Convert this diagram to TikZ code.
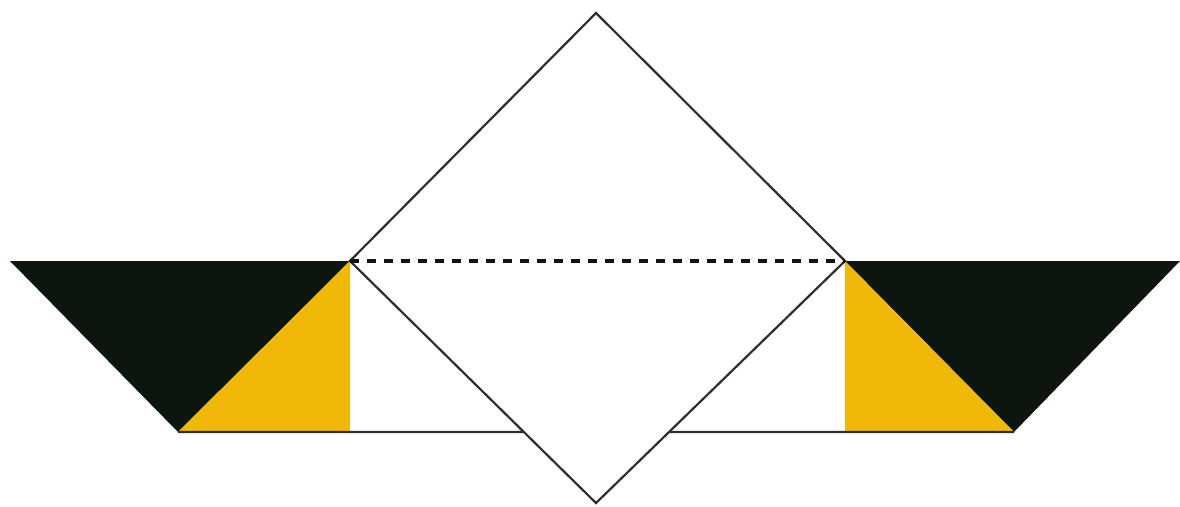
\documentclass[tikz,border=0pt]{standalone}
\usetikzlibrary{calc}
\definecolor{inkblack}{HTML}{0D150F}
\definecolor{goldfill}{HTML}{F0B808}
\definecolor{edgegray}{HTML}{2E2E2E}
\begin{document}
\begin{tikzpicture}[x=1pt,y=-1pt,
  edge/.style={draw=edgegray,line width=2.2pt,line join=miter},
  blackpart/.style={fill=inkblack},
  goldpart/.style={fill=goldfill},
  foldline/.style={draw=inkblack,line width=4pt,dash pattern=on 9pt off 8pt}]
\useasboundingbox (0,0) rectangle (1180,506);
% diamond corners
\coordinate (T) at (596,13);
\coordinate (L) at (350,261);
\coordinate (R) at (845,261);
\coordinate (B) at (596,503);
% left wing
\coordinate (LA) at (10,261);
\coordinate (LB) at (178,432);
\coordinate (LC) at (350,432);
\coordinate (LE) at ($(L)!0.7066!(B)$);
% right wing
\coordinate (RA) at (1180,261);
\coordinate (RB) at (1014,432);
\coordinate (RC) at (845,432);
\coordinate (RE) at ($(R)!0.7066!(B)$);
% black triangles
\fill[blackpart] (LA) -- (L) -- (LB) -- cycle;
\fill[blackpart] (RA) -- (R) -- (RB) -- cycle;
% gold triangles
\fill[goldpart] (L) -- (LC) -- (LB) -- cycle;
\fill[goldpart] (R) -- (RC) -- (RB) -- cycle;
% bottom edges
\draw[edge] (LB) -- (LE);
\draw[edge] (RE) -- (RB);
% diamond
\draw[edge] (T) -- (R) -- (B) -- (L) -- cycle;
% fold line
\draw[foldline] (L) -- (R);
\end{tikzpicture}
\end{document}
